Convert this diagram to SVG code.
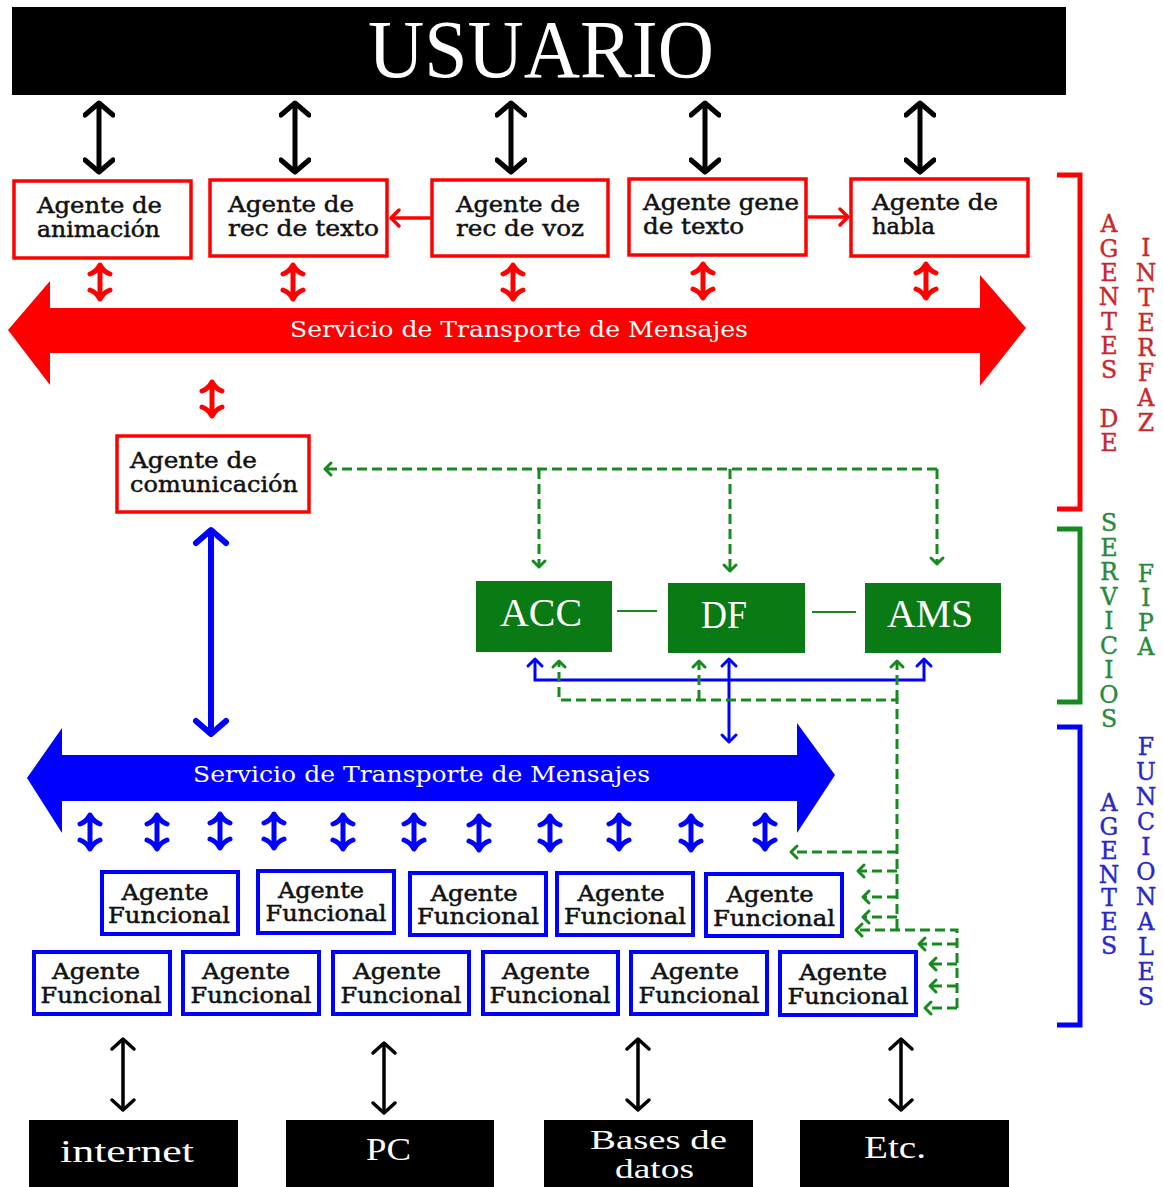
<svg xmlns="http://www.w3.org/2000/svg" width="1163" height="1187" viewBox="0 0 1163 1187">
  <style>
    .ser { font-family: "DejaVu Serif", "Liberation Serif", serif; }
    .lib { font-family: "Liberation Serif", "DejaVu Serif", serif; }
    .kbox { fill: #000; }
    .rbox { fill: #fff; stroke: #f00; stroke-width: 3.5; }
    .fbox { fill: #fff; stroke: #0000ff; stroke-width: 4; }
    .gbox { fill: #0a7a14; }
    .lbl { font-size: 23px; fill: #111; stroke: #111; stroke-width: 0.5; }
    .flbl { font-size: 22px; fill: #111; stroke: #111; stroke-width: 0.5; text-anchor: middle; }
    .bus { font-size: 22px; fill: #fff; }
    .gtxt { font-size: 40px; fill: #fff; }
    .ktxt { font-size: 32px; fill: #fff; }
    .side { font-size: 23.5px; text-anchor: middle; stroke-width: 0.4; }
    .blk { fill: none; stroke: #000; stroke-width: 5; }
    .blks { fill: none; stroke: #000; stroke-width: 3.5; }
    .red { fill: none; stroke: #f00; stroke-width: 3.5; }
    .blu { fill: none; stroke: #0000ff; stroke-width: 6; }
    .blus { fill: none; stroke: #0000ff; stroke-width: 3; }
    .gd { fill: none; stroke: #168a1e; stroke-width: 3; stroke-dasharray: 10 5; }
    .gl { fill: none; stroke: #168a1e; stroke-width: 2; }
    .anc { fill: none; stroke-width: 5; stroke-linecap: round; stroke-linejoin: round; }
  </style>
  <defs>
    <marker id="mK" viewBox="-16 -16 32 32" refX="0" refY="0" markerWidth="32" markerHeight="32" markerUnits="userSpaceOnUse" orient="auto-start-reverse">
      <path d="M-12,-14 L0,0 L-12,14" fill="none" stroke="#000" stroke-width="5" stroke-linecap="round" stroke-linejoin="round"/>
    </marker>
    <marker id="mKs" viewBox="-16 -16 32 32" refX="0" refY="0" markerWidth="32" markerHeight="32" markerUnits="userSpaceOnUse" orient="auto-start-reverse">
      <path d="M-10,-11 L0,0 L-10,11" fill="none" stroke="#000" stroke-width="3.5" stroke-linecap="round" stroke-linejoin="round"/>
    </marker>
    <marker id="mB" viewBox="-20 -20 40 40" refX="0" refY="0" markerWidth="40" markerHeight="40" markerUnits="userSpaceOnUse" orient="auto-start-reverse">
      <path d="M-13,-15 L0,0 L-13,15" fill="none" stroke="#0000ff" stroke-width="6" stroke-linecap="round" stroke-linejoin="round"/>
    </marker>
    <marker id="mBs" viewBox="-12 -12 24 24" refX="0" refY="0" markerWidth="24" markerHeight="24" markerUnits="userSpaceOnUse" orient="auto-start-reverse">
      <path d="M-7,-7 L0,0 L-7,7" fill="none" stroke="#0000ff" stroke-width="3" stroke-linecap="round" stroke-linejoin="round"/>
    </marker>
    <marker id="mG" viewBox="-12 -12 24 24" refX="0" refY="0" markerWidth="24" markerHeight="24" markerUnits="userSpaceOnUse" orient="auto-start-reverse">
      <path d="M-6,-6 L0,0 L-6,6" fill="none" stroke="#168a1e" stroke-width="3" stroke-linecap="round" stroke-linejoin="round"/>
    </marker>
    <marker id="mR" viewBox="-14 -14 28 28" refX="0" refY="0" markerWidth="28" markerHeight="28" markerUnits="userSpaceOnUse" orient="auto-start-reverse">
      <path d="M-8,-8 L0,0 L-8,8" fill="none" stroke="#f00" stroke-width="3.5" stroke-linecap="round" stroke-linejoin="round"/>
    </marker>
    <!-- short two-way link between an agent and a transport bus -->
    <path id="anchor" class="anc" d="M0,-16 V16 M-10,-8 Q-4,-10 0,-17 Q4,-10 10,-8 M-10,8 Q-4,10 0,17 Q4,10 10,8"/>
  </defs>

  <!-- user -->
  <g id="usuario">
    <rect class="kbox" x="12" y="7" width="1054" height="88"/>
    <text class="lib" x="368" y="77" font-size="82" fill="#fff" textLength="346" lengthAdjust="spacingAndGlyphs">USUARIO</text>
  </g>

  <!-- interface agents -->
  <g id="ag-animacion">
    <rect class="rbox" x="14" y="181" width="177" height="77"/>
    <text class="ser lbl" x="37" y="213" textLength="125" lengthAdjust="spacingAndGlyphs">Agente de</text>
    <text class="ser lbl" x="37" y="237" textLength="123" lengthAdjust="spacingAndGlyphs">animación</text>
  </g>
  <g id="ag-rec-texto">
    <rect class="rbox" x="210" y="180" width="177" height="76"/>
    <text class="ser lbl" x="228" y="212" textLength="126" lengthAdjust="spacingAndGlyphs">Agente de</text>
    <text class="ser lbl" x="228" y="236" textLength="151" lengthAdjust="spacingAndGlyphs">rec de texto</text>
  </g>
  <g id="ag-rec-voz">
    <rect class="rbox" x="432" y="180" width="176" height="76"/>
    <text class="ser lbl" x="456" y="212" textLength="124" lengthAdjust="spacingAndGlyphs">Agente de</text>
    <text class="ser lbl" x="456" y="236" textLength="128" lengthAdjust="spacingAndGlyphs">rec de voz</text>
  </g>
  <g id="ag-gene-texto">
    <rect class="rbox" x="629" y="179" width="177" height="76"/>
    <text class="ser lbl" x="643" y="210" textLength="156" lengthAdjust="spacingAndGlyphs">Agente gene</text>
    <text class="ser lbl" x="643" y="234" textLength="101" lengthAdjust="spacingAndGlyphs">de texto</text>
  </g>
  <g id="ag-habla">
    <rect class="rbox" x="851" y="179" width="177" height="77"/>
    <text class="ser lbl" x="872" y="210" textLength="126" lengthAdjust="spacingAndGlyphs">Agente de</text>
    <text class="ser lbl" x="872" y="234" textLength="63" lengthAdjust="spacingAndGlyphs">habla</text>
  </g>

  <!-- interface message transport -->
  <g id="bus-interfaz">
    <polygon fill="#f00" points="8,330 50,281 50,308 980,308 980,275 1026,328 980,386 980,353 50,353 50,385"/>
    <text class="ser bus" x="290" y="337" textLength="458" lengthAdjust="spacingAndGlyphs">Servicio de Transporte de Mensajes</text>
  </g>

  <g id="ag-comunicacion">
    <rect class="rbox" x="117" y="436" width="192" height="76"/>
    <text class="ser lbl" x="130" y="468" textLength="127" lengthAdjust="spacingAndGlyphs">Agente de</text>
    <text class="ser lbl" x="130" y="492" textLength="168" lengthAdjust="spacingAndGlyphs">comunicación</text>
  </g>

  <!-- FIPA services -->
  <g id="acc">
    <rect class="gbox" x="476" y="581" width="136" height="71"/>
    <text class="lib gtxt" x="500" y="626" textLength="82" lengthAdjust="spacingAndGlyphs">ACC</text>
  </g>
  <g id="df">
    <rect class="gbox" x="668" y="583" width="137" height="70"/>
    <text class="lib gtxt" x="701" y="628" textLength="46" lengthAdjust="spacingAndGlyphs">DF</text>
  </g>
  <g id="ams">
    <rect class="gbox" x="865" y="583" width="136" height="70"/>
    <text class="lib gtxt" x="887" y="627" textLength="86" lengthAdjust="spacingAndGlyphs">AMS</text>
  </g>

  <!-- functional message transport -->
  <g id="bus-funcional">
    <polygon fill="#0000ff" points="27,778 62,728 62,755 797,755 797,723 835,775 797,833 797,801 62,801 62,833"/>
    <text class="ser bus" x="193" y="782" textLength="457" lengthAdjust="spacingAndGlyphs">Servicio de Transporte de Mensajes</text>
  </g>

  <!-- functional agents, upper row -->
  <g id="af-1"><rect class="fbox" x="102" y="872" width="136" height="62"/><text class="ser flbl" x="165" y="900" textLength="87" lengthAdjust="spacingAndGlyphs">Agente</text><text class="ser flbl" x="169" y="923" textLength="122" lengthAdjust="spacingAndGlyphs">Funcional</text></g>
  <g id="af-2"><rect class="fbox" x="258" y="871" width="136" height="62"/><text class="ser flbl" x="321" y="898" textLength="86" lengthAdjust="spacingAndGlyphs">Agente</text><text class="ser flbl" x="326" y="921" textLength="121" lengthAdjust="spacingAndGlyphs">Funcional</text></g>
  <g id="af-3"><rect class="fbox" x="410" y="873" width="136" height="62"/><text class="ser flbl" x="474" y="901" textLength="87" lengthAdjust="spacingAndGlyphs">Agente</text><text class="ser flbl" x="478" y="924" textLength="122" lengthAdjust="spacingAndGlyphs">Funcional</text></g>
  <g id="af-4"><rect class="fbox" x="557" y="873" width="136" height="62"/><text class="ser flbl" x="621" y="901" textLength="87" lengthAdjust="spacingAndGlyphs">Agente</text><text class="ser flbl" x="625" y="924" textLength="122" lengthAdjust="spacingAndGlyphs">Funcional</text></g>
  <g id="af-5"><rect class="fbox" x="706" y="874" width="136" height="62"/><text class="ser flbl" x="770" y="902" textLength="87" lengthAdjust="spacingAndGlyphs">Agente</text><text class="ser flbl" x="774" y="926" textLength="122" lengthAdjust="spacingAndGlyphs">Funcional</text></g>

  <!-- functional agents, lower row -->
  <g id="af-6"><rect class="fbox" x="34" y="952" width="136" height="62"/><text class="ser flbl" x="96" y="979" textLength="88" lengthAdjust="spacingAndGlyphs">Agente</text><text class="ser flbl" x="101" y="1003" textLength="121" lengthAdjust="spacingAndGlyphs">Funcional</text></g>
  <g id="af-7"><rect class="fbox" x="183" y="952" width="136" height="62"/><text class="ser flbl" x="246" y="979" textLength="88" lengthAdjust="spacingAndGlyphs">Agente</text><text class="ser flbl" x="251" y="1003" textLength="121" lengthAdjust="spacingAndGlyphs">Funcional</text></g>
  <g id="af-8"><rect class="fbox" x="333" y="952" width="136" height="62"/><text class="ser flbl" x="397" y="979" textLength="88" lengthAdjust="spacingAndGlyphs">Agente</text><text class="ser flbl" x="401" y="1003" textLength="121" lengthAdjust="spacingAndGlyphs">Funcional</text></g>
  <g id="af-9"><rect class="fbox" x="483" y="952" width="135" height="62"/><text class="ser flbl" x="546" y="979" textLength="88" lengthAdjust="spacingAndGlyphs">Agente</text><text class="ser flbl" x="550" y="1003" textLength="121" lengthAdjust="spacingAndGlyphs">Funcional</text></g>
  <g id="af-10"><rect class="fbox" x="631" y="952" width="136" height="62"/><text class="ser flbl" x="695" y="979" textLength="88" lengthAdjust="spacingAndGlyphs">Agente</text><text class="ser flbl" x="699" y="1003" textLength="121" lengthAdjust="spacingAndGlyphs">Funcional</text></g>
  <g id="af-11"><rect class="fbox" x="780" y="952" width="136" height="63"/><text class="ser flbl" x="843" y="980" textLength="88" lengthAdjust="spacingAndGlyphs">Agente</text><text class="ser flbl" x="848" y="1004" textLength="121" lengthAdjust="spacingAndGlyphs">Funcional</text></g>

  <!-- external resources -->
  <g id="internet"><rect class="kbox" x="29" y="1120" width="209" height="67"/><text class="lib ktxt" x="60" y="1162" textLength="134" lengthAdjust="spacingAndGlyphs">internet</text></g>
  <g id="pc"><rect class="kbox" x="286" y="1120" width="208" height="67"/><text class="lib ktxt" x="366" y="1160" textLength="45" lengthAdjust="spacingAndGlyphs">PC</text></g>
  <g id="bases"><rect class="kbox" x="544" y="1120" width="209" height="67"/><text class="lib" font-size="27" fill="#fff" x="590" y="1149" textLength="137" lengthAdjust="spacingAndGlyphs">Bases de</text><text class="lib" font-size="27" fill="#fff" x="615" y="1178" textLength="79" lengthAdjust="spacingAndGlyphs">datos</text></g>
  <g id="etc"><rect class="kbox" x="800" y="1120" width="209" height="67"/><text class="lib ktxt" x="864" y="1158" textLength="62" lengthAdjust="spacingAndGlyphs">Etc.</text></g>

  <!-- layer brackets and captions -->
  <g id="capa-interfaz">
    <path d="M1057,175 H1080 V509 H1057" fill="none" stroke="#f00" stroke-width="5"/>
    <text class="ser side" fill="#c8282c" stroke="#c8282c" x="1109 1109 1109 1109 1109 1109 1109 1109 1109 1109" y="232 257 281 305 330 354 378 403 427 451">AGENTES DE</text>
    <text class="ser side" fill="#c8282c" stroke="#c8282c" x="1146 1146 1146 1146 1146 1146 1146 1146" y="256 281 306 331 356 381 406 431">INTERFAZ</text>
  </g>
  <g id="capa-fipa">
    <path d="M1057,529 H1080 V702 H1057" fill="none" stroke="#168a1e" stroke-width="5"/>
    <text class="ser side" fill="#2a8a3a" stroke="#2a8a3a" x="1109 1109 1109 1109 1109 1109 1109 1109 1109" y="531 556 580 605 629 654 678 703 727">SERVICIOS</text>
    <text class="ser side" fill="#2a8a3a" stroke="#2a8a3a" x="1146 1146 1146 1146" y="582 606 631 655">FIPA</text>
  </g>
  <g id="capa-funcional">
    <path d="M1057,727 H1080 V1025 H1057" fill="none" stroke="#0000ff" stroke-width="5"/>
    <text class="ser side" fill="#2828c8" stroke="#2828c8" x="1109 1109 1109 1109 1109 1109 1109" y="811 835 859 883 906 930 954">AGENTES</text>
    <text class="ser side" fill="#2828c8" stroke="#2828c8" x="1146 1146 1146 1146 1146 1146 1146 1146 1146 1146 1146" y="755 780 805 830 855 880 905 930 955 980 1005">FUNCIONALES</text>
  </g>

  <g id="connectors">
    <!-- user <-> interface agents -->
    <path class="blk" d="M99,103 V172" marker-start="url(#mK)" marker-end="url(#mK)"/>
    <path class="blk" d="M295,103 V172" marker-start="url(#mK)" marker-end="url(#mK)"/>
    <path class="blk" d="M511,103 V172" marker-start="url(#mK)" marker-end="url(#mK)"/>
    <path class="blk" d="M705,103 V172" marker-start="url(#mK)" marker-end="url(#mK)"/>
    <path class="blk" d="M920,103 V172" marker-start="url(#mK)" marker-end="url(#mK)"/>

    <!-- agent to agent -->
    <path class="red" d="M431,218 H391" marker-end="url(#mR)"/>
    <path class="red" d="M808,217 H848" marker-end="url(#mR)"/>

    <!-- interface agents <-> transport -->
    <use href="#anchor" x="100" y="282" stroke="#f00"/>
    <use href="#anchor" x="293" y="282" stroke="#f00"/>
    <use href="#anchor" x="513" y="282" stroke="#f00"/>
    <use href="#anchor" x="703" y="281" stroke="#f00"/>
    <use href="#anchor" x="926" y="281" stroke="#f00"/>
    <use href="#anchor" x="212" y="399" stroke="#f00"/>

    <!-- communication agent <-> functional transport -->
    <path class="blu" d="M211,530 V734" marker-start="url(#mB)" marker-end="url(#mB)"/>

    <!-- FIPA service links -->
    <path class="gl" d="M617,611 H657 M812,612 H856"/>
    <path class="gd" d="M937,469 H325" marker-end="url(#mG)"/>
    <path class="gd" d="M539,469 V567" marker-end="url(#mG)"/>
    <path class="gd" d="M730,469 V571" marker-end="url(#mG)"/>
    <path class="gd" d="M937,469 V564" marker-end="url(#mG)"/>

    <path class="blus" d="M535,659 V680 H924 V659" marker-start="url(#mBs)" marker-end="url(#mBs)"/>
    <path class="blus" d="M729,659 V742" marker-start="url(#mBs)" marker-end="url(#mBs)"/>

    <path class="gd" d="M897,929 V700 H559 V661" marker-end="url(#mG)"/>
    <path class="gd" d="M699,700 V661" marker-end="url(#mG)"/>
    <path class="gd" d="M897,700 V661" marker-end="url(#mG)"/>

    <!-- service registration paths to functional agents -->
    <path class="gd" d="M897,852 H791" marker-end="url(#mG)"/>
    <path class="gd" d="M897,871 H858" marker-end="url(#mG)"/>
    <path class="gd" d="M897,897 H863" marker-end="url(#mG)"/>
    <path class="gd" d="M897,917 H863" marker-end="url(#mG)"/>
    <path class="gd" d="M957,1008 V930 H856" marker-end="url(#mG)"/>
    <path class="gd" d="M957,944 H919" marker-end="url(#mG)"/>
    <path class="gd" d="M957,964 H930" marker-end="url(#mG)"/>
    <path class="gd" d="M957,986 H930" marker-end="url(#mG)"/>
    <path class="gd" d="M957,1008 H925" marker-end="url(#mG)"/>

    <!-- functional agents <-> transport -->
    <use href="#anchor" x="90" y="832" stroke="#0000ff"/>
    <use href="#anchor" x="157" y="832" stroke="#0000ff"/>
    <use href="#anchor" x="220" y="831" stroke="#0000ff"/>
    <use href="#anchor" x="274" y="831" stroke="#0000ff"/>
    <use href="#anchor" x="343" y="832" stroke="#0000ff"/>
    <use href="#anchor" x="414" y="832" stroke="#0000ff"/>
    <use href="#anchor" x="479" y="833" stroke="#0000ff"/>
    <use href="#anchor" x="550" y="833" stroke="#0000ff"/>
    <use href="#anchor" x="619" y="832" stroke="#0000ff"/>
    <use href="#anchor" x="691" y="833" stroke="#0000ff"/>
    <use href="#anchor" x="765" y="832" stroke="#0000ff"/>

    <!-- functional agents <-> external resources -->
    <path class="blks" d="M123,1039 V1110" marker-start="url(#mKs)" marker-end="url(#mKs)"/>
    <path class="blks" d="M384,1043 V1113" marker-start="url(#mKs)" marker-end="url(#mKs)"/>
    <path class="blks" d="M638,1039 V1110" marker-start="url(#mKs)" marker-end="url(#mKs)"/>
    <path class="blks" d="M901,1039 V1110" marker-start="url(#mKs)" marker-end="url(#mKs)"/>
  </g>
</svg>
